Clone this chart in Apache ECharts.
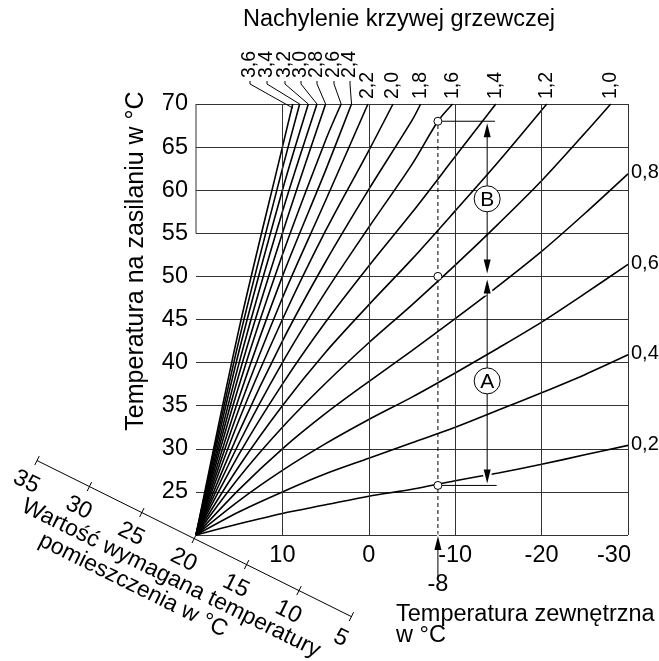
<!DOCTYPE html>
<html><head><meta charset="utf-8">
<script src="https://cdn.jsdelivr.net/npm/echarts@6/dist/echarts.min.js"></script>
<style>html,body{margin:0;padding:0;background:#fff}#c{width:659px;height:661px}</style>
</head><body><div id="c"></div>
<script>
// ---- data ----
const outdoorTicks = [10, 0, -10, -20, -30];
const supplyTicks = [25, 30, 35, 40, 45, 50, 55, 60, 65, 70];
const roomTicks = [35, 30, 25, 20, 15, 10, 5];
const slopeLabels = ['0,2','0,4','0,6','0,8','1,0','1,2','1,4','1,6','1,8','2,0','2,2','2,4','2,6','2,8','3,0','3,2','3,4','3,6'];
const curve_0_2 = [[20,20],[15,21.3],[10,22.5],[5,23.5],[0,24.5],[-5,25.3],[-10,26.3],[-15,27.2],[-20,28.2],[-25,29.3],[-30,30.4]];
const curve_0_4 = [[20,20],[15,22.7],[10,25.0],[5,27.1],[0,28.9],[-5,30.7],[-10,32.5],[-15,34.5],[-20,36.5],[-25,38.6],[-30,40.9]];
const curve_0_6 = [[20,20],[15,24.0],[10,27.5],[5,30.6],[0,33.4],[-5,36.0],[-10,38.8],[-15,41.7],[-20,44.7],[-25,48.0],[-30,51.4]];
const curve_0_8 = [[20,20],[15,25.3],[10,30.0],[5,34.1],[0,37.8],[-5,41.4],[-10,45.1],[-15,48.9],[-20,52.9],[-25,57.3],[-30,61.9]];
const curve_1_0 = [[20,20],[15,26.7],[10,32.5],[5,37.6],[0,42.3],[-5,46.7],[-10,51.3],[-15,56.1],[-20,61.1],[-25,66.6],[-28,70]];
const curve_1_2 = [[20,20],[15,28.0],[10,35.0],[5,41.2],[0,46.7],[-5,52.0],[-10,57.6],[-15,63.3],[-20.6,70]];
const curve_1_4 = [[20,20],[15,29.4],[10,37.5],[5,44.7],[0,51.2],[-5,57.4],[-10,63.9],[-14.7,70]];
const curve_1_6 = [[20,20],[15,30.7],[10,40.0],[5,48.2],[0,55.7],[-5,63.0],[-8,68.0],[-9.7,70]];
const curve_1_8 = [[20,20],[15,32.0],[10,42.5],[5,51.7],[0,60.1],[-5,68.1],[-6.0,70]];
const curve_2_0 = [[20,20],[15,33.4],[10,45.0],[5,55.3],[0,64.6],[-2.8,70]];
const curve_2_2 = [[20,20],[15,34.7],[10,47.5],[5,58.8],[0.1,70]];
const curve_2_4 = [[20,20],[15,36.0],[10,50.0],[5,62.3],[2.0,70]];
const curve_2_6 = [[20,20],[15,37.4],[10,52.5],[5,65.8],[3.2,70]];
const curve_2_8 = [[20,20],[15,38.7],[10,55.0],[5.0,70]];
const curve_3_0 = [[20,20],[15,40.0],[10,57.5],[6.0,70]];
const curve_3_2 = [[20,20],[15,41.4],[10,60.0],[7.0,70]];
const curve_3_4 = [[20,20],[15,42.7],[10,62.5],[8.0,70]];
const curve_3_6 = [[20,20],[15,44.0],[10,65.0],[8.8,70]];
const curves = [curve_0_2,curve_0_4,curve_0_6,curve_0_8,curve_1_0,curve_1_2,curve_1_4,curve_1_6,curve_1_8,
  curve_2_0,curve_2_2,curve_2_4,curve_2_6,curve_2_8,curve_3_0,curve_3_2,curve_3_4,curve_3_6];
const exampleOutdoor = -8;
const examplePoints = [[-8,68.0],[-8,50.0],[-8,25.75]];
const rangeB = [68.0, 50.0];
const rangeA = [50.0, 25.75];

// ---- chart ----
const FONT = "'Liberation Sans', Arial, sans-serif";
const chart = echarts.init(document.getElementById('c'), null, {renderer:'canvas'});
const series = curves.map(d => ({
  type:'line', data:d, smooth:0.3, showSymbol:false, silent:true, z:3,
  lineStyle:{color:'#000', width:1.6}
}));
series.push({
  type:'line', data:[], silent:true,
  markLine:{silent:true, symbol:['none','none'], label:{show:false},
    lineStyle:{color:'#333', width:1, type:'solid'},
    data: outdoorTicks.map(v => ({xAxis:v}))}
});
// left border (upper part only)
series.push({type:'line', data:[[20,55],[20,70]], showSymbol:false, silent:true, z:2,
  lineStyle:{color:'#333', width:1}});
series.push({type:'line', data:[[exampleOutdoor,20],[exampleOutdoor,examplePoints[0][1]]], showSymbol:false, silent:true, z:4,
  lineStyle:{color:'#000', width:1, type:[4,3]}});
chart.setOption({
  animation:false,
  backgroundColor:'#fff',
  grid:{left:196, top:104, right:31, bottom:126},
  xAxis:{type:'value', min:-30, max:20, interval:10, inverse:true,
    axisLine:{show:false}, axisTick:{show:false}, splitLine:{show:false},
    axisLabel:{show:false}},
  yAxis:{type:'value', min:20, max:70, interval:5,
    axisLine:{show:false}, axisTick:{show:false},
    splitLine:{show:true, lineStyle:{color:'#333', width:1}},
    axisLabel:{fontFamily:FONT, fontSize:23.5, color:'#000', margin:8,
      formatter:v => supplyTicks.includes(v) ? String(v) : ''}},
  series: series
});

const P = (x,y) => chart.convertToPixel({gridIndex:0},[x,y]);
const g = [];
const txt = (x,y,text,opt={}) => g.push({type:'text', x, y, rotation:opt.rot||0, z:20,
  style:{text, fill:'#000', font:`${opt.size||23.5}px ${FONT}`, align:opt.align||'center', verticalAlign:opt.va||'middle'}});
const seg = (x1,y1,x2,y2,opt={}) => g.push({type:'line', z:opt.z||15, shape:{x1,y1,x2,y2},
  style:{stroke:opt.color||'#000', lineWidth:opt.w||1, lineDash:opt.dash||null}});
function arrowHead(tip, dir, len, half){
  const bx = tip[0]-dir[0]*len, by = tip[1]-dir[1]*len;
  const nx = -dir[1], ny = dir[0];
  return [[tip[0],tip[1]],[bx+nx*half,by+ny*half],[bx-nx*half,by-ny*half]];
}
function arrow(from, to){
  const dx = to[0]-from[0], dy = to[1]-from[1], L = Math.hypot(dx,dy);
  const d = [dx/L, dy/L];
  const halo = arrowHead([to[0]+d[0]*3,to[1]+d[1]*3], d, 19, 7);
  g.push({type:'polygon', z:12, shape:{points:halo}, style:{fill:'#fff'}});
  seg(from[0],from[1],to[0]-d[0]*6,to[1]-d[1]*6,{z:13});
  g.push({type:'polygon', z:14, shape:{points:arrowHead(to,d,14,3.5)}, style:{fill:'#000'}});
}

// x tick labels
outdoorTicks.forEach((v,i) => {
  const p = P(v,20);
  const dx = (i === outdoorTicks.length-1) ? -14 : 0;
  txt(p[0]+dx, p[1]+21, String(v));
});
// title
txt(399, 20, 'Nachylenie krzywej grzewczej');
// y axis name
txt(136, 261, 'Temperatura na zasilaniu w °C', {rot:Math.PI/2, size:25});
// x axis name
txt(396, 615, 'Temperatura zewnętrzna', {align:'left'});
txt(396, 636, 'w °C', {align:'left'});

// curve labels
const ends = curves.map(c => P(c[c.length-1][0], c[c.length-1][1]));
for (let i=0;i<4;i++) txt(ends[i][0]+3, ends[i][1]-1, slopeLabels[i], {align:'left', size:20});
for (let i=4;i<=10;i++) txt(ends[i][0], 99, slopeLabels[i], {rot:Math.PI/2, align:'left', size:19.5});
const leaderX = {11:350, 12:334, 13:317, 14:301, 15:285, 16:267, 17:250};
for (let i=11;i<=17;i++){
  const lx = leaderX[i];
  txt(lx, 78, slopeLabels[i], {rot:Math.PI/2, align:'left', size:19.5});
  g.push({type:'polyline', z:15, shape:{points:[[lx,81],[lx,84],[ends[i][0],ends[i][1]+ (i===17?4:0)]]}, style:{stroke:'#000', lineWidth:1, fill:null}});
}

// room temperature oblique axis
const O = P(20,20);
const th = 26.4*Math.PI/180, u=[Math.cos(th),Math.sin(th)], n=[-Math.sin(th),Math.cos(th)];
const step = 11.7, off = 4;
const rp = (r, dn=0) => [O[0]+(20-r)*step*u[0]+(off+dn)*n[0], O[1]+(20-r)*step*u[1]+(off+dn)*n[1]];
const a = rp(roomTicks[0]), b = rp(roomTicks[roomTicks.length-1]);
seg(a[0],a[1],b[0],b[1]);
roomTicks.forEach(r => {
  const p1 = rp(r,-5), p2 = rp(r,5); seg(p1[0],p1[1],p2[0],p2[1]);
  const lp = rp(r,24); txt(lp[0],lp[1],String(r),{rot:-th});
});
const n1 = [O[0]-3*u[0]+50*n[0], O[1]-3*u[1]+50*n[1]];
const n2 = [O[0]-34*u[0]+73*n[0], O[1]-34*u[1]+73*n[1]];
txt(n1[0],n1[1],'Wartość wymagana temperatury',{rot:-th, size:23});
txt(n2[0],n2[1],'pomieszczenia w °C',{rot:-th, size:23});

// example: outdoor -8
const e0 = P(exampleOutdoor,20);
arrow([e0[0], e0[1]+42],[e0[0], e0[1]+1]);
txt(e0[0], 585, String(exampleOutdoor));
const pts = examplePoints.map(p => P(p[0],p[1]));
const ax = P(-13.7,20)[0];
seg(pts[0][0], pts[0][1], P(-14.6,20)[0], pts[0][1]);
seg(pts[2][0], pts[2][1], P(-14.8,20)[0], pts[2][1]);
const yB1 = P(0,rangeB[0])[1], yB2 = P(0,rangeB[1])[1], yA1 = P(0,rangeA[0])[1], yA2 = P(0,rangeA[1])[1];
const yBc = (yB1+yB2)/2, yAc = (yA1+yA2)/2;
arrow([ax,yBc],[ax,yB1+2]); arrow([ax,yBc],[ax,yB2-3]);
arrow([ax,yAc],[ax,yA1+3]); arrow([ax,yAc],[ax,yA2-2]);
[['B',yBc],['A',yAc]].forEach(([t,y]) => {
  g.push({type:'circle', z:16, shape:{cx:ax, cy:y, r:13}, style:{fill:'#fff', stroke:'#000', lineWidth:1}});
  txt(ax, y+1, t, {size:21});
});
pts.forEach(p => g.push({type:'circle', z:17, shape:{cx:p[0], cy:p[1], r:4}, style:{fill:'#fff', stroke:'#000', lineWidth:1}}));

chart.setOption({graphic:{elements:g}});
</script></body></html>
